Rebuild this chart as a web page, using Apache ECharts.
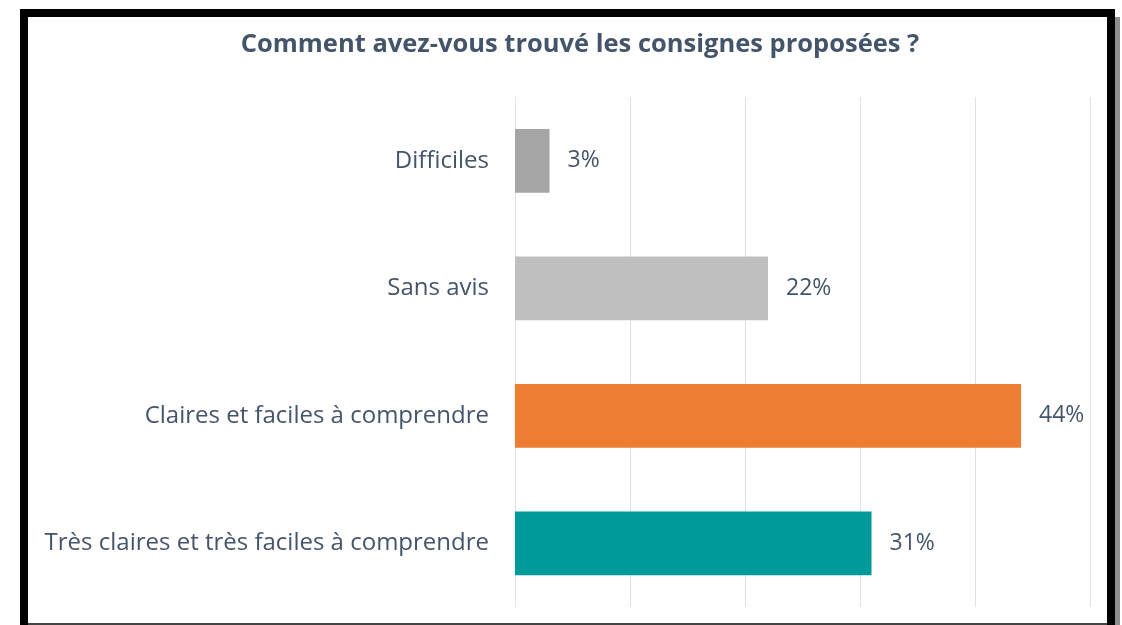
<!DOCTYPE html>
<html>
<head>
<meta charset="utf-8">
<script src="https://cdn.jsdelivr.net/npm/echarts@6/dist/echarts.min.js"></script>
<style>
  html, body { margin: 0; padding: 0; background: #fff; }
  #chart { width: 1122px; height: 625px; }
</style>
</head>
<body>
<div id="chart"></div>
<script>
var categories = ['Difficiles', 'Sans avis', 'Claires et faciles à comprendre', 'Très claires et très faciles à comprendre'];
var values = [3, 22, 44, 31];
var colors = ['#a5a5a5', '#bfbfbf', '#ed7d31', '#009a9a'];

var chartDom = document.getElementById('chart');
var myChart = echarts.init(chartDom);
var option;

var textColor = '#44546a';
var fontFamily = '"Open Sans", sans-serif';

option = {
    backgroundColor: '#fff',
    animation: false,
    title: {
        text: 'Comment avez-vous trouvé les consignes proposées ?',
        left: 575,
        textAlign: 'center',
        top: 27,
        textStyle: {
            color: textColor,
            fontSize: 25.5,
            fontWeight: 'bold',
            fontFamily: fontFamily
        }
    },
    grid: {
        left: 515,
        right: 32,
        top: 97,
        bottom: 18
    },
    xAxis: {
        type: 'value',
        min: 0,
        max: 50,
        interval: 10,
        axisLabel: { show: false },
        axisLine: { show: false },
        axisTick: { show: false },
        splitLine: { lineStyle: { color: '#dde1e6', width: 1 } }
    },
    yAxis: {
        type: 'category',
        inverse: true,
        data: categories,
        axisTick: { show: false },
        axisLine: { show: true, lineStyle: { color: '#dde1e6' } },
        axisLabel: {
            margin: 26,
            color: textColor,
            fontSize: 24,
            fontFamily: fontFamily
        }
    },
    series: [
        {
            type: 'bar',
            barWidth: '50%',
            data: values.map(function (v, i) {
                return { value: v, itemStyle: { color: colors[i] } };
            }),
            label: {
                show: true,
                position: 'right',
                distance: 18,
                formatter: '{c}%',
                color: textColor,
                fontSize: 23,
                fontFamily: fontFamily
            }
        }
    ],
    graphic: [
        { type: 'rect', shape: { x: 1115, y: 17, width: 5, height: 620 }, style: { fill: '#8c8c8c' }, z: 99 },
        { type: 'rect', shape: { x: 24, y: 13, width: 1087, height: 700 }, style: { fill: null, stroke: '#000', lineWidth: 8 }, z: 100 },
        { type: 'rect', shape: { x: 28, y: 623, width: 1079, height: 2 }, style: { fill: '#444' }, z: 100 }
    ]
};

option && myChart.setOption(option);
window.addEventListener('resize', function () {
    myChart.resize();
});
</script>
</body>
</html>
